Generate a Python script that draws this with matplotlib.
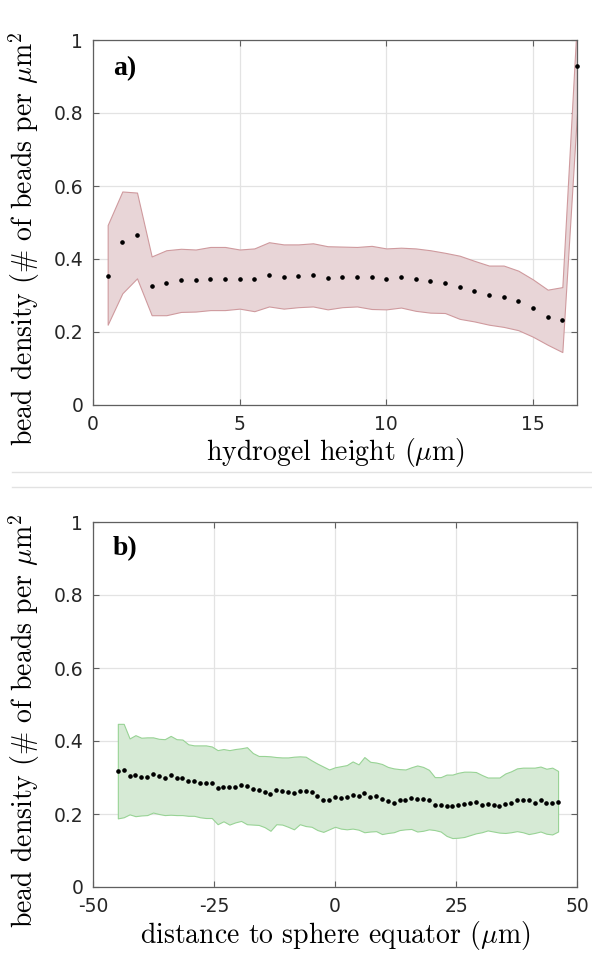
import matplotlib

matplotlib.use("Agg")
import matplotlib.pyplot as plt
from matplotlib.lines import Line2D
from matplotlib.ticker import FuncFormatter

# panel a: bead density vs hydrogel height
height_um = [0.5, 1.0, 1.5, 2.0, 2.5, 3.0, 3.5, 4.0, 4.5, 5.0, 5.5, 6.0, 6.5, 7.0, 7.5, 8.0, 8.5,
             9.0, 9.5, 10.0, 10.5, 11.0, 11.5, 12.0, 12.5, 13.0, 13.5, 14.0, 14.5, 15.0, 15.5, 16.0, 16.5]
height_mean = [0.354, 0.446, 0.465, 0.327, 0.334, 0.342, 0.342, 0.346, 0.346, 0.345, 0.345, 0.356, 0.352,
               0.353, 0.356, 0.348, 0.350, 0.352, 0.350, 0.346, 0.350, 0.346, 0.341, 0.335, 0.322, 0.313,
               0.300, 0.297, 0.286, 0.266, 0.241, 0.233, 0.929]
height_upper = [0.493, 0.585, 0.582, 0.407, 0.424, 0.428, 0.426, 0.433, 0.433, 0.426, 0.429, 0.446, 0.440,
                0.440, 0.443, 0.435, 0.434, 0.433, 0.436, 0.429, 0.431, 0.429, 0.424, 0.417, 0.409, 0.395,
                0.382, 0.382, 0.368, 0.344, 0.316, 0.323, 1.06]
height_lower = [0.220, 0.306, 0.347, 0.246, 0.246, 0.255, 0.256, 0.260, 0.260, 0.264, 0.257, 0.270, 0.264,
                0.268, 0.270, 0.262, 0.268, 0.270, 0.263, 0.262, 0.267, 0.258, 0.253, 0.252, 0.236, 0.229,
                0.220, 0.214, 0.205, 0.187, 0.165, 0.145, 0.800]

# panel b: bead density vs distance to sphere equator
dist_um = [-44.87, -43.66, -42.44, -41.23, -40.02, -38.80, -37.59, -36.38, -35.17, -33.95, -32.74, -31.53,
           -30.31, -29.10, -27.89, -26.68, -25.46, -24.25, -23.04, -21.82, -20.61, -19.40, -18.19, -16.97,
           -15.76, -14.55, -13.33, -12.12, -10.91, -9.70, -8.48, -7.27, -6.06, -4.84, -3.63, -2.42, -1.21,
           0.01, 1.22, 2.43, 3.64, 4.86, 6.07, 7.28, 8.50, 9.71, 10.92, 12.13, 13.35, 14.56, 15.77, 16.99,
           18.20, 19.41, 20.62, 21.84, 23.05, 24.26, 25.48, 26.69, 27.90, 29.11, 30.33, 31.54, 32.75, 33.97,
           35.18, 36.39, 37.60, 38.82, 40.03, 41.24, 42.46, 43.67, 44.88, 46.09]
dist_mean = [0.319, 0.321, 0.305, 0.308, 0.302, 0.302, 0.309, 0.305, 0.300, 0.306, 0.300, 0.300, 0.291,
             0.291, 0.286, 0.286, 0.286, 0.272, 0.274, 0.275, 0.275, 0.280, 0.277, 0.269, 0.265, 0.261,
             0.256, 0.266, 0.263, 0.261, 0.257, 0.264, 0.263, 0.259, 0.248, 0.239, 0.237, 0.246, 0.243,
             0.247, 0.251, 0.249, 0.258, 0.246, 0.248, 0.242, 0.236, 0.230, 0.238, 0.238, 0.244, 0.241,
             0.240, 0.237, 0.226, 0.224, 0.222, 0.222, 0.225, 0.227, 0.229, 0.232, 0.225, 0.227, 0.226,
             0.223, 0.228, 0.229, 0.237, 0.237, 0.238, 0.231, 0.238, 0.230, 0.231, 0.232]
dist_upper = [0.447, 0.447, 0.407, 0.416, 0.409, 0.410, 0.410, 0.406, 0.405, 0.414, 0.405, 0.404, 0.391,
              0.388, 0.388, 0.388, 0.385, 0.375, 0.378, 0.375, 0.378, 0.380, 0.383, 0.367, 0.359, 0.359,
              0.358, 0.356, 0.355, 0.355, 0.357, 0.358, 0.357, 0.347, 0.338, 0.330, 0.322, 0.328, 0.331,
              0.334, 0.344, 0.336, 0.356, 0.343, 0.341, 0.337, 0.329, 0.325, 0.323, 0.322, 0.328, 0.333,
              0.329, 0.321, 0.301, 0.301, 0.308, 0.308, 0.313, 0.316, 0.316, 0.315, 0.307, 0.300, 0.300,
              0.300, 0.311, 0.317, 0.325, 0.327, 0.327, 0.327, 0.330, 0.324, 0.327, 0.318]
dist_lower = [0.188, 0.191, 0.199, 0.194, 0.196, 0.197, 0.204, 0.200, 0.197, 0.198, 0.197, 0.197, 0.195,
              0.195, 0.191, 0.189, 0.189, 0.172, 0.180, 0.171, 0.177, 0.181, 0.172, 0.171, 0.170, 0.164,
              0.154, 0.172, 0.171, 0.165, 0.158, 0.172, 0.167, 0.165, 0.156, 0.151, 0.158, 0.165, 0.160,
              0.158, 0.160, 0.157, 0.150, 0.152, 0.153, 0.145, 0.148, 0.150, 0.156, 0.158, 0.159, 0.152,
              0.154, 0.158, 0.156, 0.152, 0.140, 0.134, 0.135, 0.137, 0.142, 0.147, 0.150, 0.155, 0.152,
              0.149, 0.148, 0.150, 0.153, 0.150, 0.145, 0.148, 0.152, 0.146, 0.144, 0.152]

y_ticks = [0, 0.2, 0.4, 0.6, 0.8, 1]
height_ticks = [0, 5, 10, 15]
dist_ticks = [-50, -25, 0, 25, 50]

plt.rcParams["mathtext.fontset"] = "cm"
plt.rcParams["axes.unicode_minus"] = False

AX_COLOR = "#5f5f5f"
LABEL_FONT = dict(fontfamily="cmr10", fontsize=20)
YLABEL = r"bead density (# of beads per $\mu$m$^2$"

fig = plt.figure(figsize=(5.92, 9.56), dpi=100)
ax_a = fig.add_axes([93 / 592, 1 - 405 / 956, 484 / 592, 365 / 956])
ax_b = fig.add_axes([93 / 592, 1 - 887 / 956, 484 / 592, 365 / 956])


def style_axes(ax, xticks, xlim):
    ax.set_xlim(*xlim)
    ax.set_ylim(0, 1)
    ax.set_xticks(xticks)
    ax.set_yticks(y_ticks)
    fmt = FuncFormatter(lambda v, _: f"{v:g}")
    ax.xaxis.set_major_formatter(fmt)
    ax.yaxis.set_major_formatter(fmt)
    ax.grid(True, color="#e3e3e3", linewidth=0.9)
    ax.set_axisbelow(True)
    ax.tick_params(direction="in", length=4, width=0.8, color=AX_COLOR, labelsize=13.5,
                   labelcolor="#262626", top=True, right=True, pad=7)
    for sp in ax.spines.values():
        sp.set_color(AX_COLOR)
        sp.set_linewidth(0.9)
    ax.set_ylabel(YLABEL, va="center", **LABEL_FONT)
    ax.yaxis.set_label_coords(-0.143, 0.455)


style_axes(ax_a, height_ticks, (0, 16.5))
ax_a.fill_between(height_um, height_lower, height_upper, facecolor="#e8d5d7",
                  edgecolor="#cf9a9e", linewidth=0.8, zorder=2)
ax_a.plot(height_um, height_mean, "o", color="black", markersize=2.3, zorder=3, clip_on=False)
ax_a.set_xlabel(r"hydrogel height ($\mu$m)", labelpad=2, **LABEL_FONT)
ax_a.text(0.041, 0.904, "a)", transform=ax_a.transAxes, fontfamily="Liberation Serif",
          fontweight="bold", fontsize=20, va="baseline")

style_axes(ax_b, dist_ticks, (-50, 50))
ax_b.fill_between(dist_um, dist_lower, dist_upper, facecolor="#d6ead5",
                  edgecolor="#98d395", linewidth=0.8, zorder=2)
ax_b.plot(dist_um, dist_mean, "o", color="black", markersize=2.3, zorder=3)
ax_b.set_xlabel(r"distance to sphere equator ($\mu$m)", labelpad=2, **LABEL_FONT)
ax_b.text(0.041, 0.91, "b)", transform=ax_b.transAxes, fontfamily="Liberation Serif",
          fontweight="bold", fontsize=20, va="baseline")

# thin separators between the two exported panels
for ypix in (472, 487):
    fig.add_artist(Line2D([12 / 592, 1], [1 - ypix / 956] * 2, color="#e2e2e2", linewidth=1.0))

fig.savefig("out.png", dpi=100)
